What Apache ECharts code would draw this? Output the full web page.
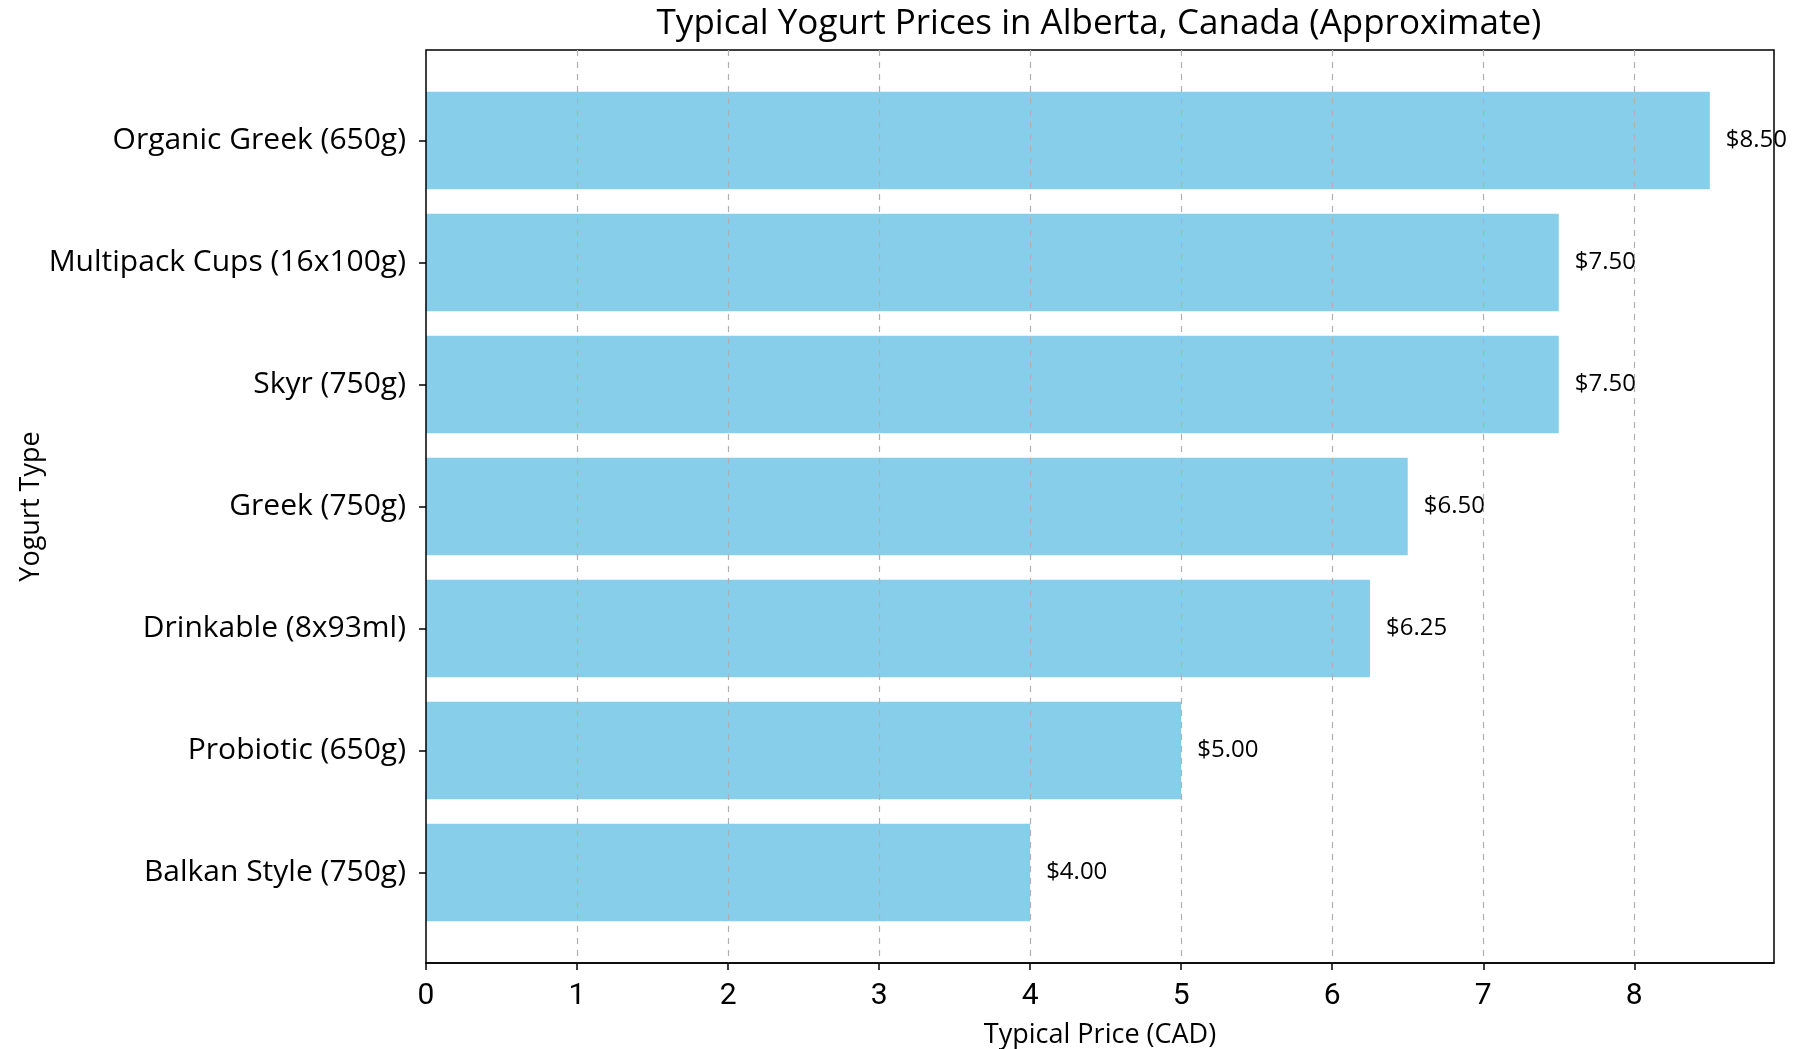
<!DOCTYPE html>
<html>
<head>
<meta charset="utf-8">
<script src="https://cdn.jsdelivr.net/npm/echarts@6/dist/echarts.min.js"></script>
<style>
html,body{margin:0;padding:0;background:#fff;}
#chart{width:1795px;height:1049px;}
</style>
</head>
<body>
<div id="chart"></div>
<script>
// Data (bottom to top, as drawn on the category axis)
const categories = ["Balkan Style (750g)", "Probiotic (650g)", "Drinkable (8x93ml)", "Greek (750g)", "Skyr (750g)", "Multipack Cups (16x100g)", "Organic Greek (650g)"];
const prices = [4.00, 5.00, 6.25, 6.50, 7.50, 7.50, 8.50];
const xTicks = [0, 1, 2, 3, 4, 5, 6, 7, 8];
const titleText = "Typical Yogurt Prices in Alberta, Canada (Approximate)";
const xLabel = "Typical Price (CAD)";
const yLabel = "Yogurt Type";

const FONT = "Open Sans";
const xMax = 8.925;
const frameTop = 50, frameBottom = 963;
const band = 122;
const innerH = band * categories.length;
const innerTop = (frameTop + frameBottom) / 2 - innerH / 2;
const gridLeft = 426, gridRight = 21;

const chart = echarts.init(document.getElementById('chart'), null, {renderer: 'canvas'});
chart.setOption({
  backgroundColor: '#fff',
  animation: false,
  title: {
    text: titleText,
    left: 1094, textAlign: 'center', top: 2,
    textStyle: {fontFamily: FONT, fontSize: 35, fontWeight: 'normal', color: '#000'}
  },
  grid: [
    {left: gridLeft, right: gridRight, top: frameTop, bottom: 1049 - frameBottom, outerBoundsMode: 'none', containLabel: false, show: true, borderColor: '#000', borderWidth: 1.5, backgroundColor: 'transparent', z: 3},
    {left: gridLeft, right: gridRight, top: innerTop, height: innerH, outerBoundsMode: 'none', containLabel: false}
  ],
  xAxis: [
    {
      gridIndex: 0, type: 'value', min: 0, max: xMax, interval: 1, z: 4,
      name: xLabel, nameLocation: 'middle', nameGap: 59, nameMoveOverlap: false,
      nameTextStyle: {fontFamily: FONT, fontSize: 27, color: '#000'},
      axisLine: {show: true, lineStyle: {color: '#000', width: 1.5}},
      axisTick: {show: true, inside: false, length: 7, customValues: xTicks, lineStyle: {color: '#000', width: 1.5}},
      axisLabel: {fontFamily: 'Roboto', fontSize: 30, color: '#000', margin: 18, customValues: xTicks,
        formatter: v => String(v)},
      splitLine: {show: true, showMinLine: false, lineStyle: {color: '#b0b0b0', type: [6, 6], width: 1.2}}
    },
    {
      gridIndex: 1, type: 'value', min: 0, max: xMax, show: false,
      splitLine: {show: false}
    }
  ],
  yAxis: [
    {gridIndex: 0, type: 'value', show: false, splitLine: {show: false}},
    {
      gridIndex: 1, type: 'category', data: categories,
      name: yLabel, nameLocation: 'middle', nameGap: 381, nameMoveOverlap: false,
      nameTextStyle: {fontFamily: FONT, fontSize: 27, color: '#000'},
      axisLine: {show: false},
      axisTick: {show: true, alignWithLabel: true, length: 7, lineStyle: {color: '#000', width: 1.5}},
      axisLabel: {fontFamily: FONT, fontSize: 30, color: '#000', margin: 20},
      splitLine: {show: false}
    }
  ],
  series: [{
    type: 'bar', xAxisIndex: 1, yAxisIndex: 1, data: prices,
    barCategoryGap: '20%', z: 1,
    itemStyle: {color: '#87CEEB'},
    label: {
      show: true, position: 'right', distance: 16,
      fontFamily: FONT, fontSize: 24, color: '#000',
      formatter: p => '$' + p.value.toFixed(2)
    }
  }]
});
</script>
</body>
</html>
